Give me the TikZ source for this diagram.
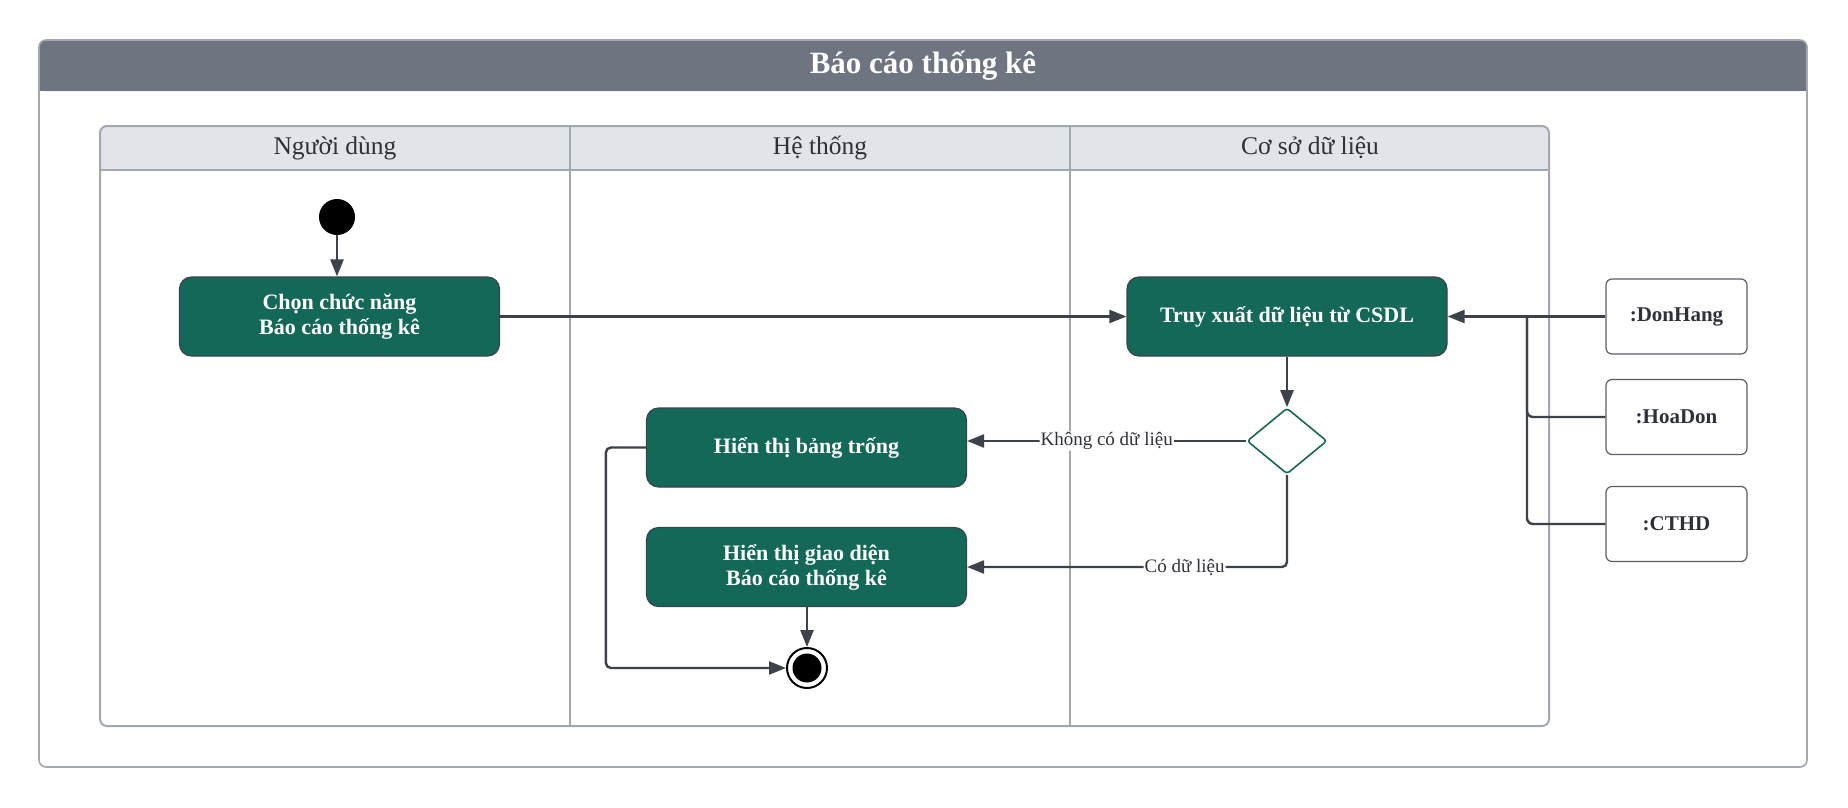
\documentclass[tikz,border=0pt]{standalone}
\usepackage{fontspec}
\setmainfont{Liberation Serif}
\usetikzlibrary{arrows.meta,shapes.geometric}
\definecolor{hdr}{HTML}{6E7581}
\definecolor{lanehdr}{HTML}{E1E4E9}
\definecolor{framec}{HTML}{A3A7AE}
\definecolor{act}{HTML}{136857}
\definecolor{ink}{HTML}{3D424A}
\definecolor{txt}{HTML}{2E3238}
\begin{document}
\begin{tikzpicture}[x=1pt,y=-1pt,
  actbox/.style={draw=ink, line width=1.2pt, fill=act, rounded corners=12pt,
    minimum width=320pt, minimum height=79pt, text=white,
    font=\bfseries\fontsize{22}{25}\selectfont, align=center, inner sep=0pt},
  objbox/.style={draw=ink!85, line width=1.2pt, fill=white, rounded corners=6pt,
    minimum width=141pt, minimum height=75pt, text=txt,
    font=\bfseries\fontsize{21}{25}\selectfont, inner sep=0pt},
  flow/.style={draw=ink, line width=2.4pt, rounded corners=5pt,
    -{Triangle[length=17pt,width=13pt]}},
  plainflow/.style={draw=ink, line width=2.4pt, rounded corners=6pt},
  elabel/.style={fill=white, inner sep=1pt, text=txt,
    font=\fontsize{19}{21}\selectfont},
  lanelabel/.style={text=txt, font=\fontsize{25.5}{28}\selectfont},
  lanebox/.style={draw=framec, line width=2pt}
]
\useasboundingbox (0,0) rectangle (1848,807);
% outer frame with header
\fill[hdr, rounded corners=7pt] (39,40) rectangle (1807,91);
\fill[hdr] (39,70) rectangle (1807,91);
\draw[framec, line width=1.6pt, rounded corners=7pt] (39,40) rectangle (1807,767);
\node[text=white, font=\bfseries\fontsize{31}{34}\selectfont] (title) at (923,66) {Báo cáo thống kê};
% swimlanes
\fill[lanehdr, rounded corners=7pt] (100,126) rectangle (1549,170);
\fill[lanehdr] (100,150) rectangle (1549,170);
\draw[lanebox] (100,170) -- (1549,170);
\draw[lanebox] (570,126) -- (570,726);
\draw[lanebox] (1070,126) -- (1070,726);
\draw[lanebox, rounded corners=7pt] (100,126) rectangle (1549,726);
\node[lanelabel] (l1) at (335,148) {Người dùng};
\node[lanelabel] (l2) at (820,148) {Hệ thống};
\node[lanelabel] (l3) at (1310,148) {Cơ sở dữ liệu};
% nodes
\node[circle, fill=black, minimum size=36pt, inner sep=0pt] (start) at (337,217) {};
\node[actbox] (a1) at (339.5,316.5) {Chọn chức năng\\Báo cáo thống kê};
\node[actbox] (a2) at (1287,316.5) {Truy xuất dữ liệu từ CSDL};
\node[diamond, draw=act, line width=1.6pt, fill=white, minimum width=80pt,
  minimum height=66pt, inner sep=0pt, rounded corners=3pt] (dec) at (1287,441) {};
\node[actbox] (a3) at (806.5,447.5) {Hiển thị bảng trống};
\node[actbox] (a4) at (806.5,567) {Hiển thị giao diện\\Báo cáo thống kê};
\node[circle, draw=black, line width=2pt, fill=white, minimum size=40pt, inner sep=0pt] (end) at (807,668) {};
\fill[black] (end.center) circle (14.5pt);
\node[objbox] (o1) at (1676.5,316.5) {:DonHang};
\node[objbox] (o2) at (1676.5,417) {:HoaDon};
\node[objbox] (o3) at (1676.5,524) {:CTHD};
\coordinate (bus) at (1527,316.5);
% connectors
\draw[flow] (start) -- (start |- a1.north);
\draw[flow] (a1.east) -- (a2.west);
\draw[flow] (a2.south) -- (dec.north);
\draw[flow] (dec.west) -- (a3.east |- dec.west)
  node[elabel, midway] (lk) {Không có dữ liệu};
\draw[flow] (dec.south) |- (a4.east)
  node[elabel, pos=0.66] (lc) {Có dữ liệu};
\draw[flow] (a3.west) -- ++(-40,0) |- (end.west);
\draw[flow] (end |- a4.south) -- (end.north);
\draw[plainflow] (o2.west) -| (bus);
\draw[plainflow] (o3.west) -| (bus);
\draw[flow] (o1.west) -- (a2.east);
\end{tikzpicture}
\end{document}
